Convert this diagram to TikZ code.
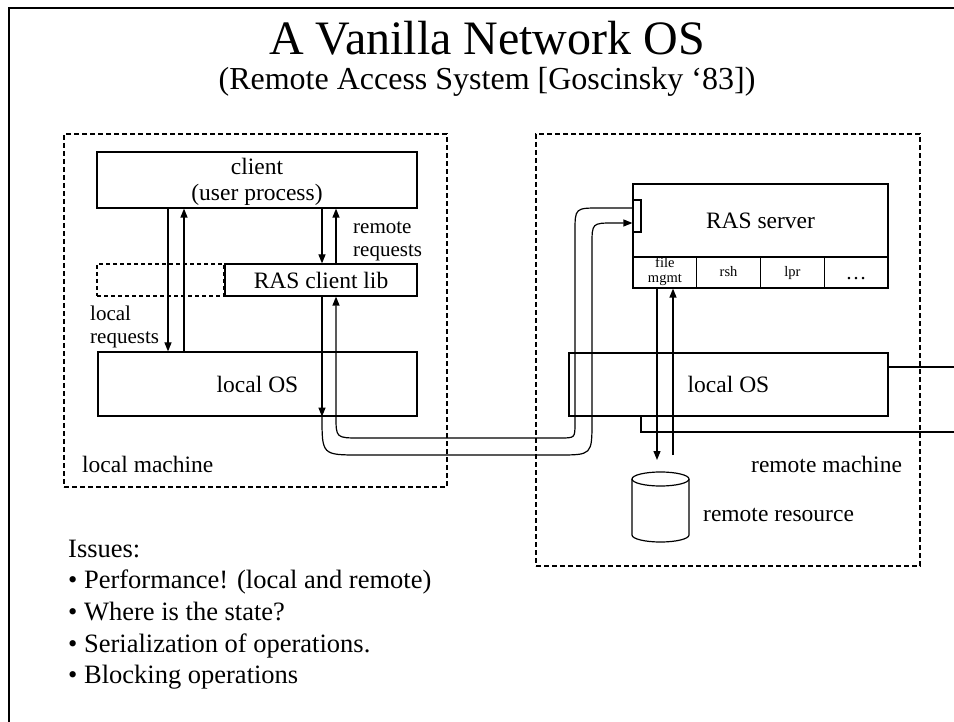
\documentclass[tikz,border=0pt]{standalone}
\usepackage{fontspec}
\setmainfont{Liberation Serif}
\usetikzlibrary{arrows.meta}
\begin{document}
\begin{tikzpicture}[x=1pt,y=-1pt,
  box/.style={draw, line width=1.2pt, inner sep=0pt, align=center, font=\fontsize{23.5}{27}\selectfont},
  cell/.style={draw, line width=1.2pt, minimum width=63.75pt, minimum height=31pt, inner sep=0pt},
  celltxt/.style={inner sep=0pt, anchor=base, font=\fontsize{14.5}{15}\selectfont},
  machine/.style={draw, line width=1.8pt, dash pattern=on 5pt off 3pt, inner sep=0pt},
  stubbox/.style={draw, line width=1.2pt, dash pattern=on 4pt off 3pt, inner sep=0pt},
  arr/.style={line width=1.2pt, -{Triangle[length=9pt,width=7pt]}},
  pipe/.style={line width=1.2pt},
  lbl/.style={inner sep=0pt, anchor=base west, font=\fontsize{21}{24}\selectfont},
  txt/.style={inner sep=0pt, anchor=base west, font=\fontsize{23.5}{27}\selectfont},
  ctxt/.style={inner sep=0pt, anchor=base, font=\fontsize{23.5}{27}\selectfont},
  issue/.style={inner sep=0pt, anchor=base west, font=\fontsize{26.5}{31.7}\selectfont}
]
\useasboundingbox (0,0) rectangle (954,722);
\fill[white] (0,0) rectangle (954,722);
% slide frame
\draw[line width=2.2pt] (9,722) -- (9,8) -- (954,8);

% title
\node[inner sep=0pt, anchor=base, font=\fontsize{48}{50}\selectfont] (title) at (487,55) {A Vanilla Network OS};
\node[inner sep=0pt, anchor=base, font=\fontsize{32}{34}\selectfont] (subtitle) at (487,90) {(Remote Access System [Goscinsky ‘83])};

% machines
\node[machine, minimum width=383pt, minimum height=353pt] (lm) at (255.5,310.5) {};
\node[machine, minimum width=384pt, minimum height=432pt] (rm) at (728,350) {};

% local machine boxes
\node[box, minimum width=320pt, minimum height=56pt] (client) at (257,180) {};
\node[ctxt] (clientA) at (257,175) {client};
\node[ctxt] (clientB) at (257,201) {(user process)};
\node[stubbox, minimum width=127pt, minimum height=32pt] (stub) at (160.5,280) {};
\node[box, minimum width=192pt, minimum height=32pt] (rcl) at (321,280) {RAS client lib};
\node[box, minimum width=319pt, minimum height=64pt] (losL) at (257.5,384) {local OS};

% remote machine boxes
\node[box, minimum width=255pt, minimum height=73pt] (ras) at (760.5,220.5) {RAS server};
\node[cell] (c1) at (664.9,272.5) {};
\node[cell] (c2) at (728.6,272.5) {};
\node[cell] (c3) at (792.4,272.5) {};
\node[cell] (c4) at (856.1,272.5) {};
\node[celltxt] (c1a) at (664.9,268) {file};
\node[celltxt] (c1b) at (664.9,283) {mgmt};
\node[celltxt] (c2a) at (728.6,277) {rsh};
\node[celltxt] (c3a) at (792.4,277) {lpr};
\node[celltxt, font=\fontsize{21}{21}\selectfont] (c4a) at (856.1,280) {…};
\node[draw, line width=1.2pt, fill=white, minimum width=8pt, minimum height=32pt, inner sep=0pt] (port) at (637,216) {};
\node[box, minimum width=319pt, minimum height=63pt] (losR) at (728.5,384.5) {local OS};

% remote resource (disk)
\coordinate (disk) at (660.5,507);
\draw[line width=1.2pt] (660.5,479) ellipse [x radius=28.5pt, y radius=7pt];
\draw[line width=1.2pt] (632,479) -- (632,535) arc[start angle=180, end angle=360, x radius=28.5pt, y radius=7pt] -- (689,479);

% helper coordinates
\coordinate (xa) at (168,0);
\coordinate (xb) at (184,0);
\coordinate (xc) at (322,0);
\coordinate (xd) at (336,0);
\coordinate (xe) at (657,0);
\coordinate (xf) at (673,0);
\coordinate (xg) at (641,0);
\coordinate (yA) at (0,208);
\coordinate (yB) at (0,223);
\coordinate (ea) at (954,367);
\coordinate (eb) at (954,432);
\coordinate (fmd) at (657,460);
\coordinate (fmu) at (673,455);

% local requests
\draw[arr] (client.south -| xa) -- (losL.north -| xa);
\draw[arr] (losL.north -| xb) -- (client.south -| xb);
% remote requests
\draw[arr] (client.south -| xc) -- (rcl.north -| xc);
\draw[arr] (rcl.north -| xd) -- (client.south -| xd);
\draw[arr] (rcl.south -| xc) -- (losL.south -| xc);

% network pipe: outgoing
\draw[arr] (losL.south -| xc) .. controls (322,455) .. (360,455) -- (558,455)
   .. controls (592,455) .. (592,421) -- (592,245)
   .. controls (592,223) .. (614,223) -- (port.west |- yB);
% network pipe: reply
\draw[arr] (port.west |- yA) -- (600,208) .. controls (575,208) .. (575,232) -- (575,423)
   .. controls (575,438) .. (560,438) -- (360,438)
   .. controls (336,438) .. (336,416) -- (rcl.south -| xd);

% file mgmt <-> disk
\draw[arr] (c1.south -| xe) -- (fmd);
\draw[arr] (fmu) -- (c1.south -| xf);

% lines leaving remote local OS
\draw[pipe] (losR.east |- ea) -- (ea);
\draw[pipe] (losR.south -| xg) -- (xg |- eb) -- (eb);

% labels
\node[lbl] (rr1) at (353,234) {remote};
\node[lbl] (rr2) at (353,257) {requests};
\node[lbl] (lr1) at (90,321) {local};
\node[lbl] (lr2) at (90,344) {requests};
\node[txt] (lmach) at (82,472) {local machine};
\node[txt] (rmach) at (751,472) {remote machine};
\node[txt] (rres) at (703,521) {remote resource};

% issues
\node[issue] (iss) at (68,557) {Issues:};
\node[issue] (i1) at (68,588.7) {• Performance! (local and remote)};
\node[issue] (i2) at (68,620.4) {• Where is the state?};
\node[issue] (i3) at (68,652.1) {• Serialization of operations.};
\node[issue] (i4) at (68,683.8) {• Blocking operations};
\end{tikzpicture}
\end{document}
